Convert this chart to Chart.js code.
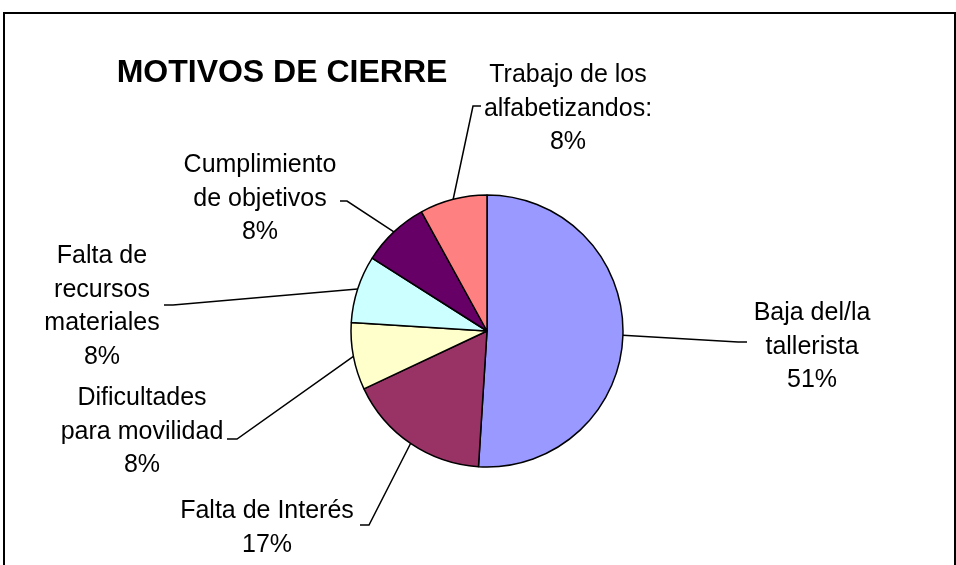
<!DOCTYPE html>
<html>
<head>
<meta charset="utf-8">
<script src="https://cdn.jsdelivr.net/npm/chart.js@4/dist/chart.umd.min.js"></script>
<style>
    html, body { margin: 0; padding: 0; background: #fff; }
    #wrap { width: 956px; height: 565px; }
</style>
</head>
<body>
<div id="wrap"><canvas id="chart-cierre" width="956" height="565"></canvas></div>
<script>
/**
 * Motivos de cierre de los talleres, in percent.
 */
const categories = [
    ['Baja del/la', 'tallerista'],
    ['Falta de Interés'],
    ['Dificultades', 'para movilidad'],
    ['Falta de', 'recursos', 'materiales'],
    ['Cumplimiento', 'de objetivos'],
    ['Trabajo de los', 'alfabetizandos:']
];
const percents = [51, 17, 8, 8, 8, 8];
const sliceColors = ['#9999FF', '#993366', '#FFFFCC', '#CCFFFF', '#660066', '#FF8080'];

const TITLE = 'MOTIVOS DE CIERRE';
const FONT = 'Arial, "Liberation Sans", sans-serif';
const LINE_HEIGHT = 33.5;

/**
 * where each label sits: text centre x, first baseline y,
 * elbow of the leader line and the end of its short stub
 */
const labelLayout = [
    {x: 812, y: 320, elbow: [738, 342], stub: [747, 342]},
    {x: 267, y: 518, elbow: [369, 525], stub: [360, 525]},
    {x: 142, y: 405, elbow: [237, 439], stub: [227, 439]},
    {x: 102, y: 263, elbow: [173, 305], stub: [164, 305]},
    {x: 260, y: 172, elbow: [347, 201], stub: [340, 201]},
    {x: 568, y: 82, elbow: [473, 106], stub: [481, 106]}
];

/**
 * frame, title, leader lines and data labels
 */
const decorations = {
    id: 'decorations',
    beforeDraw(chart) {
        const ctx = chart.ctx;
        ctx.save();
        ctx.fillStyle = '#fff';
        ctx.fillRect(0, 0, chart.width, chart.height);
        ctx.strokeStyle = '#000';
        ctx.lineWidth = 2;
        ctx.strokeRect(4, 13, 951, 600);
        ctx.restore();
    },
    afterDatasetsDraw(chart) {
        const ctx = chart.ctx;
        const meta = chart.getDatasetMeta(0);
        ctx.save();

        ctx.fillStyle = '#000';
        ctx.textAlign = 'center';
        ctx.textBaseline = 'alphabetic';
        ctx.font = 'bold 32px ' + FONT;
        ctx.fillText(TITLE, 282, 82);

        ctx.strokeStyle = '#000';
        ctx.lineWidth = 1.5;
        ctx.font = '25px ' + FONT;
        meta.data.forEach((arc, i) => {
            const p = arc.getProps(['x', 'y', 'startAngle', 'endAngle', 'outerRadius'], true);
            const mid = (p.startAngle + p.endAngle) / 2;
            const ax = p.x + Math.cos(mid) * p.outerRadius;
            const ay = p.y + Math.sin(mid) * p.outerRadius;
            const lay = labelLayout[i];

            ctx.beginPath();
            ctx.moveTo(ax, ay);
            ctx.lineTo(lay.elbow[0], lay.elbow[1]);
            ctx.lineTo(lay.stub[0], lay.stub[1]);
            ctx.stroke();

            const lines = categories[i].concat([percents[i] + '%']);
            lines.forEach((line, k) => {
                ctx.fillText(line, lay.x, lay.y + k * LINE_HEIGHT);
            });
        });
        ctx.restore();
    }
};

new Chart(document.getElementById('chart-cierre'), {
    type: 'pie',
    data: {
        labels: categories.map(c => c.join(' ')),
        datasets: [{
            data: percents,
            backgroundColor: sliceColors,
            borderColor: '#000',
            borderWidth: 1.5
        }]
    },
    options: {
        responsive: false,
        animation: false,
        radius: 136,
        layout: {
            padding: {left: 18, right: 0, top: 97, bottom: 0}
        },
        plugins: {
            legend: {display: false},
            tooltip: {enabled: false}
        }
    },
    plugins: [decorations]
});
</script>
</body>
</html>
